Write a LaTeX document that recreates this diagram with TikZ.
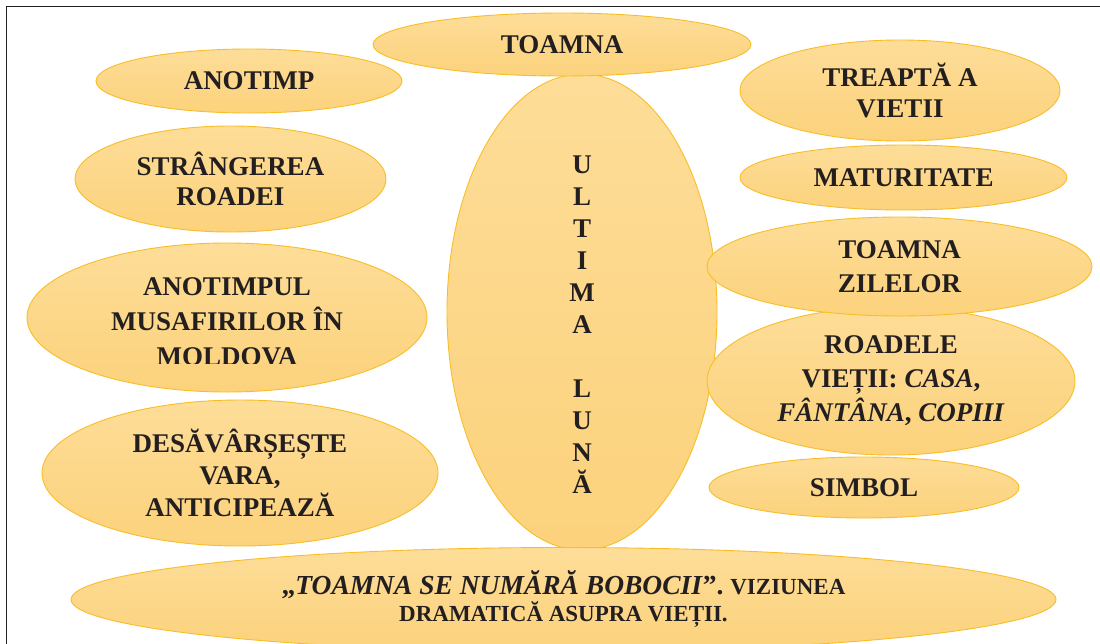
\documentclass[tikz,border=0pt]{standalone}
\usepackage{fontspec}
\setmainfont{Liberation Serif}
\usepackage{tikz}
\usetikzlibrary{shapes.geometric,positioning}
\definecolor{BubTop}{RGB}{253,221,152}
\definecolor{BubBot}{RGB}{252,210,124}
\definecolor{BubEdge}{RGB}{249,190,38}
\definecolor{InkC}{RGB}{35,31,32}
\tikzset{
  bubble/.style={ellipse,draw=BubEdge,line width=0.9pt,top color=BubTop,bottom color=BubBot,
                 inner sep=0pt,align=center,text=InkC,
                 font=\bfseries\fontsize{27}{32}\selectfont},
  bubtxt/.style={inner sep=0pt,align=center,text=InkC,font=\bfseries\fontsize{27}{32}\selectfont},
  frame/.style={InkC,line width=1.6pt},
}

\begin{document}
\begin{tikzpicture}[x=1pt,y=-1pt]
  \clip (0,0) rectangle (1100,643);
  \fill[white] (0,0) rectangle (1100,643);
  \draw[frame] (6.5,650) -- (6.5,6.5) -- (1110,6.5);
  \node[bubble,minimum width=270pt,minimum height=476pt] (ultima) at (582,312) {};
  \node[bubtxt] (ultimatxt) at ([yshift=-13pt]ultima.center)
    {U\\L\\T\\I\\M\\A\\\mbox{}\\L\\U\\N\\Ă};
  \node[bubble,minimum width=378pt,minimum height=63pt] (toamna) at (562,44.5) {TOAMNA};
  \node[bubble,minimum width=306pt,minimum height=64pt] (anotimp) at (249,81) {ANOTIMP};
  \node[bubble,minimum width=311pt,minimum height=106pt,
        font=\bfseries\fontsize{27}{30}\selectfont] (roada) at (230.5,179) {STRÂNGEREA\\ROADEI};
  \node[bubble,minimum width=400pt,minimum height=149pt] (musafiri) at (227,317.5) {};
  \begin{scope}
    \clip (27,243) rectangle (427,363);
    \node[bubtxt,font=\bfseries\fontsize{27}{35}\selectfont] (musafiritxt) at (227,322)
      {ANOTIMPUL\\MUSAFIRILOR ÎN\\MOLDOVA};
  \end{scope}
  \node[bubble,minimum width=396pt,minimum height=146pt] (desav) at (240,473)
    {DESĂVÂRȘEȘTE\\VARA,\\ANTICIPEAZĂ};
  \node[bubble,minimum width=320pt,minimum height=101pt,
        font=\bfseries\fontsize{27}{31}\selectfont] (treapta) at (900,90.5) {TREAPTĂ A\\VIETII};
  \node[bubble,minimum width=327pt,minimum height=65pt] (matur) at (903.5,177.5) {MATURITATE};
  \node[bubble,minimum width=368pt,minimum height=148pt,
        font=\bfseries\fontsize{27}{34}\selectfont] (roadele) at (891,381)
    {ROADELE\\VIEȚII: \textit{CASA},\\\textit{FÂNTÂNA}, \textit{COPIII}};
  \node[bubble,minimum width=385pt,minimum height=99pt,
        font=\bfseries\fontsize{27}{34}\selectfont] (zilelor) at (899.5,266.5) {TOAMNA\\ZILELOR};
  \node[bubble,minimum width=310pt,minimum height=61pt] (simbol) at (864,487.5) {SIMBOL};
  \node[bubble,minimum width=985pt,minimum height=104pt,
        font=\bfseries\fontsize{27.5}{27}\selectfont] (bobocii) at (563.5,599.5)
    {„\textit{TOAMNA SE NUMĂRĂ BOBOCII}”. {\fontsize{23}{27}\selectfont VIZIUNEA}\\
     {\fontsize{23}{27}\selectfont DRAMATICĂ ASUPRA VIEȚII.}};
\end{tikzpicture}
\end{document}
